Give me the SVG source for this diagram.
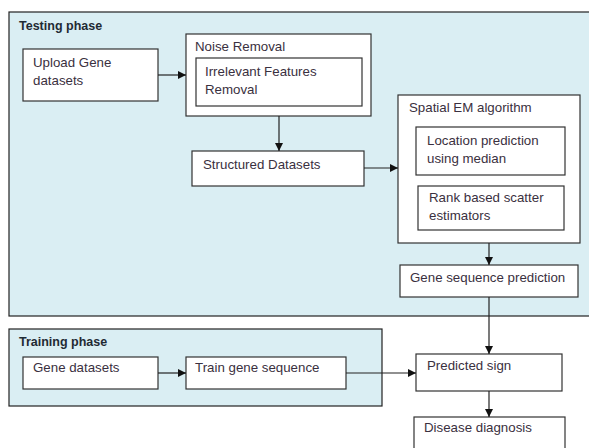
<svg xmlns="http://www.w3.org/2000/svg" width="589" height="448" viewBox="0 0 589 448">
<defs>
<style>
.phase{fill:#DAEEF3;stroke:#222;stroke-width:1.2}
.box{fill:#fff;stroke:#333;stroke-width:1.2}
.t{font-family:"Liberation Sans",Arial,sans-serif;font-size:13.3px;fill:#3a3040}
.h{font-family:"Liberation Sans",Arial,sans-serif;font-size:12.5px;font-weight:bold;fill:#1f2a33}
.c{stroke:#222;stroke-width:1.2;fill:none;marker-end:url(#ah)}
</style>
<marker id="ah" viewBox="0 0 10 10" refX="10" refY="5" markerWidth="8" markerHeight="8" markerUnits="userSpaceOnUse" orient="auto">
<path d="M0,0L10,5L0,10z" fill="#111"/>
</marker>
</defs>
<rect width="589" height="448" fill="#fff"/>
<g id="testing-phase">
<rect class="phase" x="9" y="12" width="585" height="304"/>
<text class="h" x="19" y="30">Testing phase</text>
</g>
<g id="training-phase">
<rect class="phase" x="9" y="329" width="373" height="77"/>
<text class="h" x="19" y="346">Training phase</text>
</g>
<g id="upload">
<rect class="box" x="23" y="49" width="135" height="52"/>
<text class="t" x="33" y="67">Upload Gene</text>
<text class="t" x="33" y="85">datasets</text>
</g>
<g id="noise">
<rect class="box" x="186" y="34" width="185" height="82"/>
<text class="t" x="195" y="51">Noise Removal</text>
</g>
<g id="irrelevant">
<rect class="box" x="196" y="58" width="166" height="48"/>
<text class="t" x="205" y="76">Irrelevant Features</text>
<text class="t" x="205" y="94">Removal</text>
</g>
<g id="structured">
<rect class="box" x="192" y="151" width="172" height="35"/>
<text class="t" x="203" y="169">Structured Datasets</text>
</g>
<g id="spatial">
<rect class="box" x="398" y="95" width="182" height="148"/>
<text class="t" x="409" y="112">Spatial EM  algorithm</text>
</g>
<g id="location">
<rect class="box" x="416" y="127" width="149" height="48"/>
<text class="t" x="427" y="145">Location prediction</text>
<text class="t" x="427" y="163">using median</text>
</g>
<g id="rank">
<rect class="box" x="418" y="186" width="146" height="44"/>
<text class="t" x="429" y="202">Rank based scatter</text>
<text class="t" x="429" y="220">estimators</text>
</g>
<g id="geneseq">
<rect class="box" x="400" y="265" width="178" height="32"/>
<text class="t" x="410" y="282">Gene sequence prediction</text>
</g>
<g id="genedatasets">
<rect class="box" x="23" y="357" width="135" height="32"/>
<text class="t" x="33" y="372">Gene datasets</text>
</g>
<g id="train">
<rect class="box" x="186" y="357" width="160" height="32"/>
<text class="t" x="195" y="372">Train gene sequence</text>
</g>
<g id="predicted">
<rect class="box" x="416" y="354" width="146" height="37"/>
<text class="t" x="427" y="370">Predicted sign</text>
</g>
<g id="disease">
<rect class="box" x="414" y="417" width="151" height="40"/>
<text class="t" x="424" y="432">Disease diagnosis</text>
</g>
<g id="connectors">
<line class="c" x1="158" y1="75" x2="186" y2="75"/>
<line class="c" x1="279" y1="116" x2="279" y2="151"/>
<line class="c" x1="364" y1="168" x2="398" y2="168"/>
<line class="c" x1="489" y1="243" x2="489" y2="265"/>
<line class="c" x1="489" y1="297" x2="489" y2="354"/>
<line class="c" x1="489" y1="391" x2="489" y2="417"/>
<line class="c" x1="158" y1="373" x2="186" y2="373"/>
<line class="c" x1="346" y1="373" x2="416" y2="373"/>
</g>
</svg>
